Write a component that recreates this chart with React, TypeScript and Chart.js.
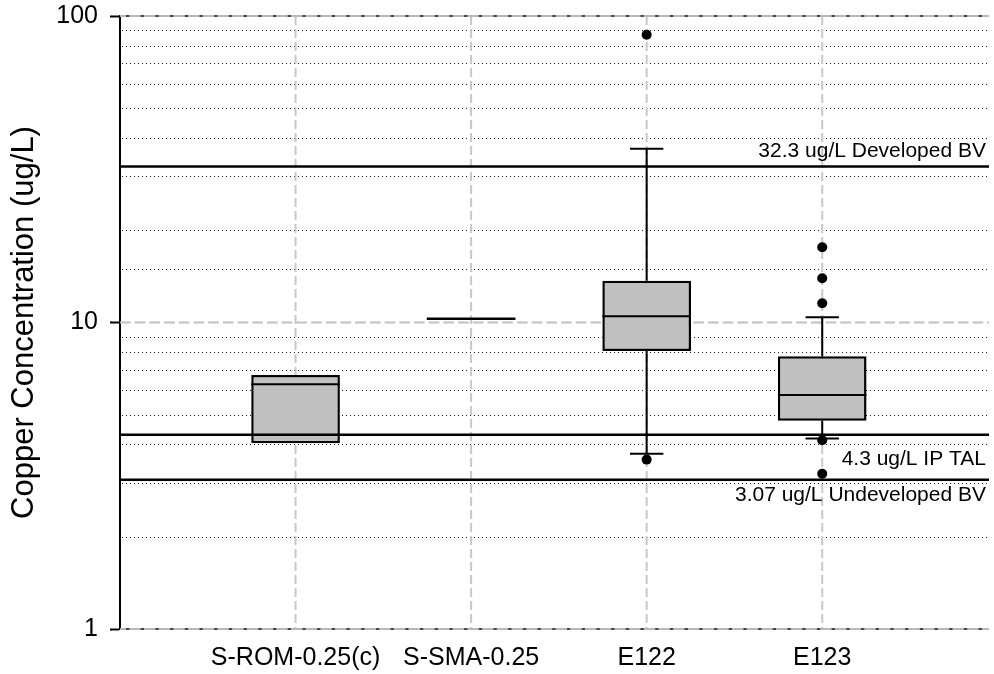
import React, { useEffect, useRef } from 'react';
import { Chart, registerables } from 'chart.js';

Chart.register(...registerables);

// ---- data ----
const categories = ['S-ROM-0.25(c)', 'S-SMA-0.25', 'E122', 'E123'];
const whiskerLow = [4.04, 10.29, 3.73, 4.18];
const boxQ1 = [4.04, 10.29, 8.07, 4.78];
const boxMedian = [6.29, 10.29, 10.48, 5.8];
const boxQ3 = [6.74, 10.29, 13.69, 7.76];
const whiskerHigh = [6.74, 10.29, 36.9, 10.4];
const outliers = [[], [], [86.9, 3.57], [17.6, 13.94, 11.55, 4.13, 3.21]];
const refValues = [32.3, 4.3, 3.07];
const refLabels = ['32.3 ug/L Developed BV', '4.3 ug/L IP TAL', '3.07 ug/L Undeveloped BV'];
const yTickLabels = [1, 10, 100];
const yTitle = 'Copper Concentration (ug/L)';

// ---- styling ----
const X_MIN = 0;
const X_MAX = 4.95;
const BOX_RATIO = 0.505;
const CAP_RATIO = 0.19;
const FONT = '"Liberation Sans", Arial, sans-serif';
const refLabelOffsets = [-9, 30, 21];

const isMajor = (v: number) => Math.abs(Math.log10(v) - Math.round(Math.log10(v))) < 1e-9;

const gridPlugin = {
  id: 'customGrid',
  beforeDatasetsDraw(chart: any) {
    const { ctx, chartArea } = chart;
    const x = chart.scales.x;
    const y = chart.scales.y;
    ctx.save();
    ctx.beginPath();
    ctx.rect(chartArea.left, chartArea.top - 2, chartArea.right - chartArea.left, chartArea.bottom - chartArea.top + 4);
    ctx.clip();
    // minor dotted lines
    y.ticks.forEach((t: any) => {
      if (isMajor(t.value)) return;
      const py = Math.round(y.getPixelForValue(t.value)) + 0.5;
      ctx.beginPath();
      ctx.setLineDash([1, 3]);
      ctx.lineWidth = 1;
      ctx.strokeStyle = '#1a1a1a';
      ctx.moveTo(chartArea.left + 2, py);
      ctx.lineTo(chartArea.right, py);
      ctx.stroke();
    });
    // vertical dashed lines at categories
    x.ticks.forEach((t: any) => {
      const px = x.getPixelForValue(t.value);
      ctx.beginPath();
      ctx.setLineDash([9, 4]);
      ctx.lineWidth = 2;
      ctx.strokeStyle = '#c8c8c8';
      ctx.moveTo(px, chartArea.top);
      ctx.lineTo(px, chartArea.bottom);
      ctx.stroke();
    });
    // major lines
    y.ticks.forEach((t: any) => {
      if (!isMajor(t.value)) return;
      const py = y.getPixelForValue(t.value);
      const edge = t.value === y.min || t.value === y.max;
      if (edge) {
        ctx.beginPath();
        ctx.setLineDash([]);
        ctx.lineWidth = 2;
        ctx.strokeStyle = '#b8b8b8';
        ctx.moveTo(chartArea.left, py);
        ctx.lineTo(chartArea.right, py);
        ctx.stroke();
        ctx.beginPath();
        ctx.setLineDash([3.3, 11.4]);
        ctx.lineWidth = 1.5;
        ctx.strokeStyle = '#202020';
        ctx.moveTo(chartArea.left + 6, py);
        ctx.lineTo(chartArea.right, py);
        ctx.stroke();
      } else {
        ctx.beginPath();
        ctx.setLineDash([10.7, 4]);
        ctx.lineWidth = 2;
        ctx.strokeStyle = '#c0c0c0';
        ctx.moveTo(chartArea.left, py);
        ctx.lineTo(chartArea.right, py);
        ctx.stroke();
      }
    });
    ctx.restore();
  },
};

const boxPlugin = {
  id: 'boxExtras',
  afterDatasetsDraw(chart: any) {
    const { ctx } = chart;
    const x = chart.scales.x;
    const y = chart.scales.y;
    const unit = x.getPixelForValue(1) - x.getPixelForValue(0);
    const boxW = unit * BOX_RATIO;
    const capW = unit * CAP_RATIO;
    ctx.save();
    ctx.setLineDash([]);
    ctx.strokeStyle = '#000';
    categories.forEach((_, i) => {
      const cx = x.getPixelForValue(i + 1);
      const pQ1 = y.getPixelForValue(boxQ1[i]);
      const pQ3 = y.getPixelForValue(boxQ3[i]);
      const pLo = y.getPixelForValue(whiskerLow[i]);
      const pHi = y.getPixelForValue(whiskerHigh[i]);
      const pMed = y.getPixelForValue(boxMedian[i]);
      ctx.lineWidth = 2;
      if (whiskerHigh[i] > boxQ3[i]) {
        ctx.beginPath();
        ctx.moveTo(cx, pQ3);
        ctx.lineTo(cx, pHi);
        ctx.moveTo(cx - capW / 2, pHi);
        ctx.lineTo(cx + capW / 2, pHi);
        ctx.stroke();
      }
      if (whiskerLow[i] < boxQ1[i]) {
        ctx.beginPath();
        ctx.moveTo(cx, pQ1);
        ctx.lineTo(cx, pLo);
        ctx.moveTo(cx - capW / 2, pLo);
        ctx.lineTo(cx + capW / 2, pLo);
        ctx.stroke();
      }
      ctx.beginPath();
      ctx.lineWidth = boxQ3[i] > boxQ1[i] ? 2 : 2.5;
      ctx.moveTo(cx - boxW / 2, pMed);
      ctx.lineTo(cx + boxW / 2, pMed);
      ctx.stroke();
    });
    // reference labels
    ctx.fillStyle = '#000';
    ctx.font = `21px ${FONT}`;
    ctx.textAlign = 'right';
    ctx.textBaseline = 'alphabetic';
    refValues.forEach((v, i) => {
      const py = y.getPixelForValue(v) + refLabelOffsets[i];
      ctx.fillText(refLabels[i], chart.chartArea.right - 3, py);
    });
    ctx.restore();
  },
};

export default function App() {
  const ref = useRef<HTMLCanvasElement>(null);
  useEffect(() => {
    document.body.style.margin = '0';
    if (!ref.current) return;
    const boxData = categories.map((_, i) => ({
      x: i + 1,
      y: boxQ3[i] > boxQ1[i] ? [boxQ1[i], boxQ3[i]] : null,
    }));
    const outlierData: { x: number; y: number }[] = [];
    outliers.forEach((arr, i) => arr.forEach((v) => outlierData.push({ x: i + 1, y: v })));
    const refDatasets = refValues.map((v) => ({
      type: 'line' as const,
      data: [
        { x: X_MIN, y: v },
        { x: X_MAX, y: v },
      ],
      borderColor: '#000',
      borderWidth: 2.5,
      pointRadius: 0,
      fill: false,
      order: 0,
    }));
    const chart = new Chart(ref.current, {
      type: 'bar',
      data: {
        datasets: [
          ...refDatasets,
          {
            type: 'scatter' as const,
            data: outlierData,
            backgroundColor: '#000',
            borderColor: '#000',
            borderWidth: 0,
            pointRadius: 5,
            order: 1,
          },
          {
            type: 'bar' as const,
            data: boxData as any,
            backgroundColor: '#c0c0c0',
            borderColor: '#000',
            borderWidth: 2.5,
            borderSkipped: false,
            barPercentage: BOX_RATIO,
            categoryPercentage: 1,
            order: 3,
          },
        ] as any,
      },
      options: {
        animation: false,
        responsive: false,
        devicePixelRatio: 1,
        layout: { padding: { top: 16, left: 0, right: 0, bottom: 0 } },
        plugins: { legend: { display: false }, tooltip: { enabled: false } },
        events: [],
        scales: {
          x: {
            type: 'linear',
            offset: false,
            min: X_MIN,
            max: X_MAX,
            afterBuildTicks: (scale: any) => {
              scale.ticks = categories.map((_, i) => ({ value: i + 1 }));
            },
            afterFit: (scale: any) => {
              scale.height = 45;
              scale.paddingLeft = 0;
              scale.paddingRight = 0;
            },
            ticks: {
              callback: (v: any) => categories[Math.round(Number(v)) - 1] ?? '',
              font: { family: FONT, size: 25 },
              color: '#000',
              padding: 6,
              autoSkip: false,
              maxRotation: 0,
            },
            grid: { display: false, offset: false },
            border: { display: false },
          },
          y: {
            type: 'logarithmic',
            min: 1,
            max: 100,
            afterFit: (scale: any) => {
              scale.width = 120;
              scale.paddingTop = 0;
              scale.paddingBottom = 0;
            },
            title: {
              display: true,
              text: yTitle,
              font: { family: FONT, size: 31 },
              color: '#000',
              padding: { top: 6, bottom: 0 },
            },
            ticks: {
              autoSkip: false,
              font: { family: FONT, size: 25 },
              color: '#000',
              padding: 12,
              callback: (v: any) => (yTickLabels.includes(Number(v)) ? String(v) : ''),
            },
            grid: {
              display: true,
              drawOnChartArea: false,
              drawTicks: true,
              tickLength: 10,
              tickWidth: 2,
              tickColor: (c: any) => (c.tick && isMajor(c.tick.value) ? '#000' : 'rgba(0,0,0,0)'),
            },
            border: { display: true, color: '#000', width: 2 },
          },
        },
      },
      plugins: [gridPlugin, boxPlugin],
    });
    return () => chart.destroy();
  }, []);
  return (
    <div style={{ width: 994, height: 674 }}>
      <canvas ref={ref} width={994} height={674} style={{ display: 'block', width: 994, height: 674 }} />
    </div>
  );
}
